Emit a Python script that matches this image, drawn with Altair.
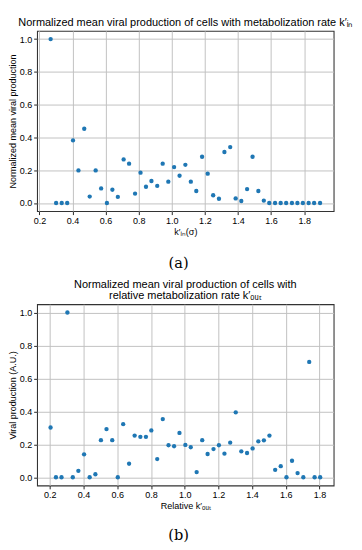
import altair as alt
import pandas as pd

# ---- data ----
xa = [0.268, 0.301, 0.335, 0.368, 0.403, 0.436, 0.471, 0.504, 0.540, 0.573,
      0.608, 0.641, 0.674, 0.709, 0.742, 0.778, 0.811, 0.844, 0.877, 0.912,
      0.945, 0.979, 1.014, 1.047, 1.082, 1.115, 1.148, 1.183, 1.217, 1.250,
      1.285, 1.318, 1.353, 1.386, 1.420, 1.455, 1.488, 1.523, 1.556, 1.589,
      1.624, 1.658, 1.691, 1.726, 1.759, 1.792, 1.827, 1.860, 1.896]
ya = [1.0, 0.0, 0.0, 0.0, 0.382, 0.199, 0.453, 0.039, 0.199, 0.089,
      0.0, 0.081, 0.037, 0.266, 0.240, 0.057, 0.185, 0.099, 0.134, 0.104,
      0.240, 0.130, 0.219, 0.166, 0.233, 0.130, 0.073, 0.282, 0.179, 0.047,
      0.026, 0.311, 0.341, 0.028, 0.012, 0.085, 0.282, 0.073, 0.014, 0.0,
      0.0, 0.0, 0.0, 0.0, 0.0, 0.0, 0.0, 0.0, 0.0]

xb = [0.204, 0.236, 0.269, 0.304, 0.336, 0.369, 0.403, 0.436, 0.470, 0.503,
      0.536, 0.570, 0.603, 0.635, 0.670, 0.703, 0.737, 0.770, 0.802, 0.837,
      0.870, 0.904, 0.937, 0.969, 1.004, 1.036, 1.071, 1.104, 1.136, 1.171,
      1.203, 1.236, 1.270, 1.303, 1.336, 1.370, 1.403, 1.437, 1.470, 1.503,
      1.537, 1.570, 1.604, 1.637, 1.670, 1.704, 1.739, 1.771, 1.804]
yb = [0.302, 0.0, 0.0, 1.0, 0.0, 0.039, 0.139, 0.0, 0.018, 0.225,
      0.292, 0.225, 0.0, 0.322, 0.082, 0.253, 0.245, 0.245, 0.284, 0.110,
      0.353, 0.194, 0.188, 0.269, 0.196, 0.182, 0.031, 0.225, 0.141, 0.171,
      0.194, 0.143, 0.210, 0.394, 0.157, 0.147, 0.175, 0.218, 0.224, 0.253,
      0.045, 0.067, 0.0, 0.100, 0.025, 0.0, 0.70, 0.0, 0.0]

x_ticks = [0.2, 0.4, 0.6, 0.8, 1.0, 1.2, 1.4, 1.6, 1.8]
y_ticks = [0.0, 0.2, 0.4, 0.6, 0.8, 1.0]

title_a = "Normalized mean viral production of cells with metabolization rate k′ᵢₙ"
title_b = ["Normalized mean viral production of cells with",
           "relative metabolization rate k′ₒᵤₜ"]
xtitle_a = "k′ᵢₙ(σ)"
xtitle_b = "Relative k′ₒᵤₜ"
ytitle_a = "Normalized mean viral production"
ytitle_b = "Viral production (A.U.)"

FONT = "Liberation Sans"
W = 306


def panel(x, y, title, xtitle, ytitle, xdom, h, label, label_dy):
    df = pd.DataFrame({"x": x, "y": y})
    pts = alt.Chart(df).mark_circle(size=20, color="#1f77b4", opacity=1).encode(
        x=alt.X("x:Q", scale=alt.Scale(domain=xdom, nice=False, zero=False),
                axis=alt.Axis(values=x_ticks, format=".1f", title=xtitle)),
        y=alt.Y("y:Q", scale=alt.Scale(domain=[-0.05, 1.05], nice=False, zero=False),
                axis=alt.Axis(values=y_ticks, format=".1f", title=ytitle)),
    )
    lab = alt.Chart(pd.DataFrame({"t": [label]})).mark_text(
        font="DejaVu Serif", fontSize=15, color="black", baseline="middle", align="center"
    ).encode(text="t:N", x=alt.value(146), y=alt.value(h + label_dy))
    return alt.layer(pts, lab).properties(
        width=W, height=h,
        title=alt.TitleParams(title, font=FONT, fontSize=11.3, fontWeight="normal",
                              color="black", anchor="middle", frame="group",
                              offset=3, lineHeight=11.5),
    )


a = panel(xa, ya, title_a, xtitle_a, ytitle_a, [0.186, 1.978], 186, "(a)", 54)
b = panel(xb, yb, title_b, xtitle_b, ytitle_b, [0.124, 1.884], 187, "(b)", 51)

chart = alt.vconcat(a, b, spacing=6).resolve_scale(
    x="independent", y="independent"
).properties(padding=0).configure_view(
    stroke="#333333", strokeWidth=1.1
).configure_axis(
    labelFont=FONT, titleFont=FONT, labelFontSize=9.3, titleFontSize=9.3,
    titleFontWeight="normal", labelColor="black", titleColor="black",
    tickSize=3.5, tickColor="#222222", tickWidth=1, domain=False,
    gridColor="#c0c0c0", gridWidth=1, labelPadding=2, titlePadding=2,
)

chart.save("out.html", embed_options={"renderer": "svg", "actions": False})
